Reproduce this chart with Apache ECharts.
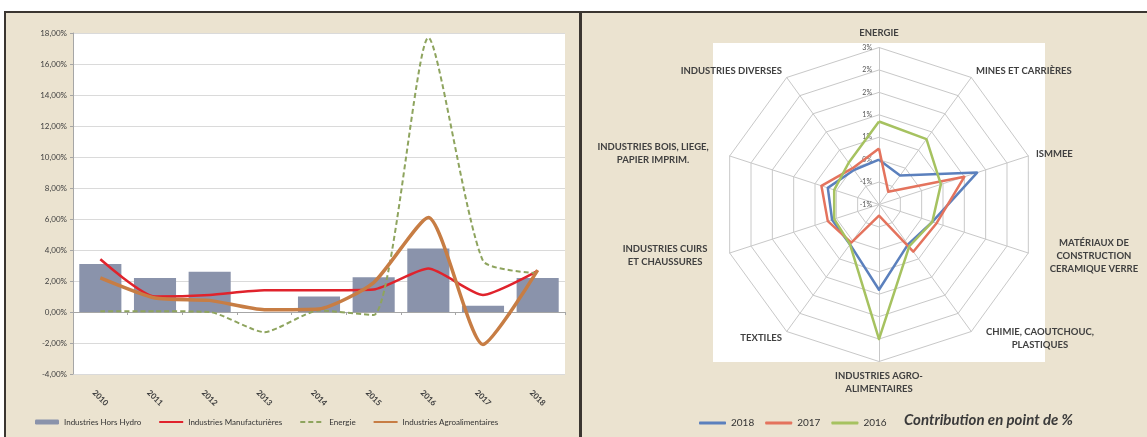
<!DOCTYPE html>
<html>
<head>
<meta charset="utf-8">
<script src="https://cdn.jsdelivr.net/npm/echarts@6/dist/echarts.min.js"></script>
<style>
html, body { margin: 0; padding: 0; background: #fff; }
#chart { width: 1147px; height: 437px; }
</style>
</head>
<body>
<div id="chart"></div>
<script>
// --- données graphique de gauche (croissance, %)
var years = ['2010', '2011', '2012', '2013', '2014', '2015', '2016', '2017', '2018'];
var horsHydro = [3.1, 2.2, 2.6, 0, 1.0, 2.25, 4.1, 0.4, 2.2];
var manufacturieres = [3.4, 1.0, 1.1, 1.4, 1.4, 1.45, 2.8, 1.1, 2.65];
var energie = [0.05, 0.05, 0.0, -1.3, 0.1, -0.2, 17.7, 3.3, 2.5];
var agroalimentaires = [2.2, 0.9, 0.75, 0.15, 0.2, 1.9, 6.1, -2.1, 2.7];
var yMin = -4, yMax = 18, yStep = 2;

// --- données radar (contribution en point de %), sens horaire depuis le haut
var secteurs = ['ENERGIE', 'MINES ET CARRIÈRES', 'ISMMEE', 'MATÉRIAUX DE\nCONSTRUCTION\nCERAMIQUE VERRE',
	'CHIMIE, CAOUTCHOUC,\nPLASTIQUES', 'INDUSTRIES AGRO-\nALIMENTAIRES', 'TEXTILES',
	'INDUSTRIES CUIRS\nET CHAUSSURES', 'INDUSTRIES BOIS, LIEGE,\nPAPIER IMPRIM.', 'INDUSTRIES DIVERSES'];
var contrib2018 = [0.0, -0.2, 1.3, 0.25, 0.1, 0.9, 0.1, 0.1, 0.2, -0.05];
var contrib2017 = [0.25, -0.65, 1.0, 0.35, 0.3, -0.75, 0.05, 0.2, 0.35, 0.0];
var contrib2016 = [0.85, 0.8, 0.45, 0.25, 0.15, 2.0, 0.1, 0.05, 0.05, 0.15];
var rMin = -1, rMax = 2.5, rStep = 0.5;

var font = 'Lato';

// décalage des noms sur plusieurs lignes (centrés comme dans Excel)
var nameStyles = {
	3: { align: 'center', padding: [0, 0, 0, 116] },
	4: { align: 'center', padding: [0, 0, 0, 128] },
	7: { align: 'center', padding: [0, 114, 0, 0] },
	8: { align: 'center', padding: [0, 138, 0, 0] }
};

// echarts place les axes du radar dans le sens anti-horaire
function ccw(arr) {
	return arr.map(function (v, i) { return arr[(arr.length - i) % arr.length]; });
}

function pct(v) {
	// arrondi comme Excel (0.5 -> 1)
	var r = Math.sign(v) * Math.round(Math.abs(v));
	return r + '%';
}

var indicators = ccw(secteurs.map(function (name, i) {
	var ind = { name: name, min: rMin, max: rMax };
	if (i === 0) {
		ind.axisLabel = { show: true };
	}
	if (nameStyles[i]) {
		ind.nameTextStyle = nameStyles[i];
	}
	return ind;
}));

var hideDot = { opacity: 0 };

var myChart = echarts.init(document.getElementById('chart'));

var option = {
	animation: false,
	textStyle: { fontFamily: font },
	graphic: [
		{ type: 'rect', z: -100, shape: { x: 6, y: 13, width: 574, height: 424 }, style: { fill: '#ebe3d0' } },
		{ type: 'rect', z: -100, shape: { x: 582, y: 13, width: 565, height: 424 }, style: { fill: '#ebe3d0' } },
		{ type: 'rect', z: -99, shape: { x: 713, y: 43, width: 332, height: 319 }, style: { fill: '#ffffff' } },
		{ type: 'rect', z: -98, shape: { x: 4, y: 11, width: 1143, height: 2 }, style: { fill: '#3b3631' } },
		{ type: 'rect', z: -98, shape: { x: 4, y: 11, width: 2, height: 426 }, style: { fill: '#3b3631' } },
		{ type: 'rect', z: -98, shape: { x: 579, y: 11, width: 3, height: 426 }, style: { fill: '#3b3631' } }
	],
	title: {
		text: 'Contribution en point de %',
		left: 899,
		top: 408,
		textStyle: { fontFamily: font, fontSize: 15, fontStyle: 'italic', fontWeight: 'bold', color: '#3a3a3a' }
	},
	legend: [
		{
			data: [
				{ name: 'Industries Hors Hydro' },
				{ name: 'Industries Manufacturières', itemStyle: hideDot },
				{ name: 'Energie', itemStyle: hideDot },
				{ name: 'Industries Agroalimentaires', itemStyle: hideDot }
			],
			left: 30,
			top: 413,
			itemWidth: 24,
			itemHeight: 5,
			itemGap: 17,
			textStyle: { fontFamily: font, fontSize: 8, color: '#333' }
		},
		{
			data: ['2018', '2017', '2016'],
			left: 694,
			top: 413,
			itemWidth: 27,
			itemHeight: 3,
			itemGap: 11,
			textStyle: { fontFamily: font, fontSize: 10, color: '#333' }
		}
	],
	grid: {
		left: 73, top: 33, width: 492, height: 341,
		show: true, backgroundColor: '#ffffff', borderWidth: 0
	},
	xAxis: [
		{
			type: 'category',
			data: years,
			position: 'bottom',
			axisLine: { show: false, onZero: false },
			axisTick: { show: false },
			axisLabel: {
				rotate: -45, align: 'center', verticalAlign: 'middle', margin: 24,
				fontSize: 8, fontWeight: 'bold', color: '#404040', interval: 0
			}
		},
		{
			type: 'category',
			data: years,
			position: 'bottom',
			axisLine: { onZero: true, lineStyle: { color: '#a6a6a6', width: 1 } },
			axisTick: { show: true, length: 3, lineStyle: { color: '#a6a6a6' } },
			axisLabel: { show: false }
		}
	],
	yAxis: {
		type: 'value',
		min: yMin, max: yMax, interval: yStep,
		axisLine: { show: true, lineStyle: { color: '#a6a6a6' } },
		axisTick: { show: true, length: 3, lineStyle: { color: '#a6a6a6' } },
		splitLine: { lineStyle: { color: '#dadada' } },
		axisLabel: {
			fontSize: 8, color: '#404040', margin: 6,
			formatter: function (v) { return v.toFixed(2).replace('.', ',') + '%'; }
		}
	},
	radar: {
		center: [879, 204.5],
		radius: 157,
		shape: 'polygon',
		splitNumber: (rMax - rMin) / rStep,
		startAngle: 90,
		indicator: indicators,
		nameGap: 8,
		axisName: { color: '#404040', fontSize: 9.5, fontWeight: 'bold', fontFamily: font, lineHeight: 13 },
		axisLine: { lineStyle: { color: '#c8c8c8' } },
		splitLine: { lineStyle: { color: '#c8c8c8' } },
		splitArea: { show: false },
		axisLabel: {
			show: false, fontSize: 7, color: '#555', margin: 7,
			formatter: pct
		}
	},
	series: [
		{
			name: 'Industries Hors Hydro',
			type: 'bar',
			data: horsHydro,
			barCategoryGap: '23%',
			itemStyle: { color: '#8a93ab' }
		},
		{
			name: 'Industries Manufacturières',
			type: 'line',
			data: manufacturieres,
			symbol: 'none',
			smooth: 0.2,
			lineStyle: { color: '#e0232c', width: 2.5 },
			itemStyle: { color: '#e0232c' }
		},
		{
			name: 'Energie',
			type: 'line',
			data: energie,
			symbol: 'none',
			smooth: 0.2,
			lineStyle: { color: '#8ea45e', width: 2, type: [5, 3] },
			itemStyle: { color: '#8ea45e' }
		},
		{
			name: 'Industries Agroalimentaires',
			type: 'line',
			data: agroalimentaires,
			symbol: 'none',
			smooth: 0.2,
			lineStyle: { color: '#c77d44', width: 3.5 },
			itemStyle: { color: '#c77d44' }
		},
		{
			type: 'radar',
			symbol: 'none',
			lineStyle: { width: 2.5 },
			data: [
				{ name: '2018', value: ccw(contrib2018), lineStyle: { color: '#5b80bd' }, itemStyle: { color: '#5b80bd' } },
				{ name: '2017', value: ccw(contrib2017), lineStyle: { color: '#e4735d' }, itemStyle: { color: '#e4735d' } },
				{ name: '2016', value: ccw(contrib2016), lineStyle: { color: '#a6c260' }, itemStyle: { color: '#a6c260' } }
			]
		}
	]
};

myChart.setOption(option);
</script>
</body>
</html>
